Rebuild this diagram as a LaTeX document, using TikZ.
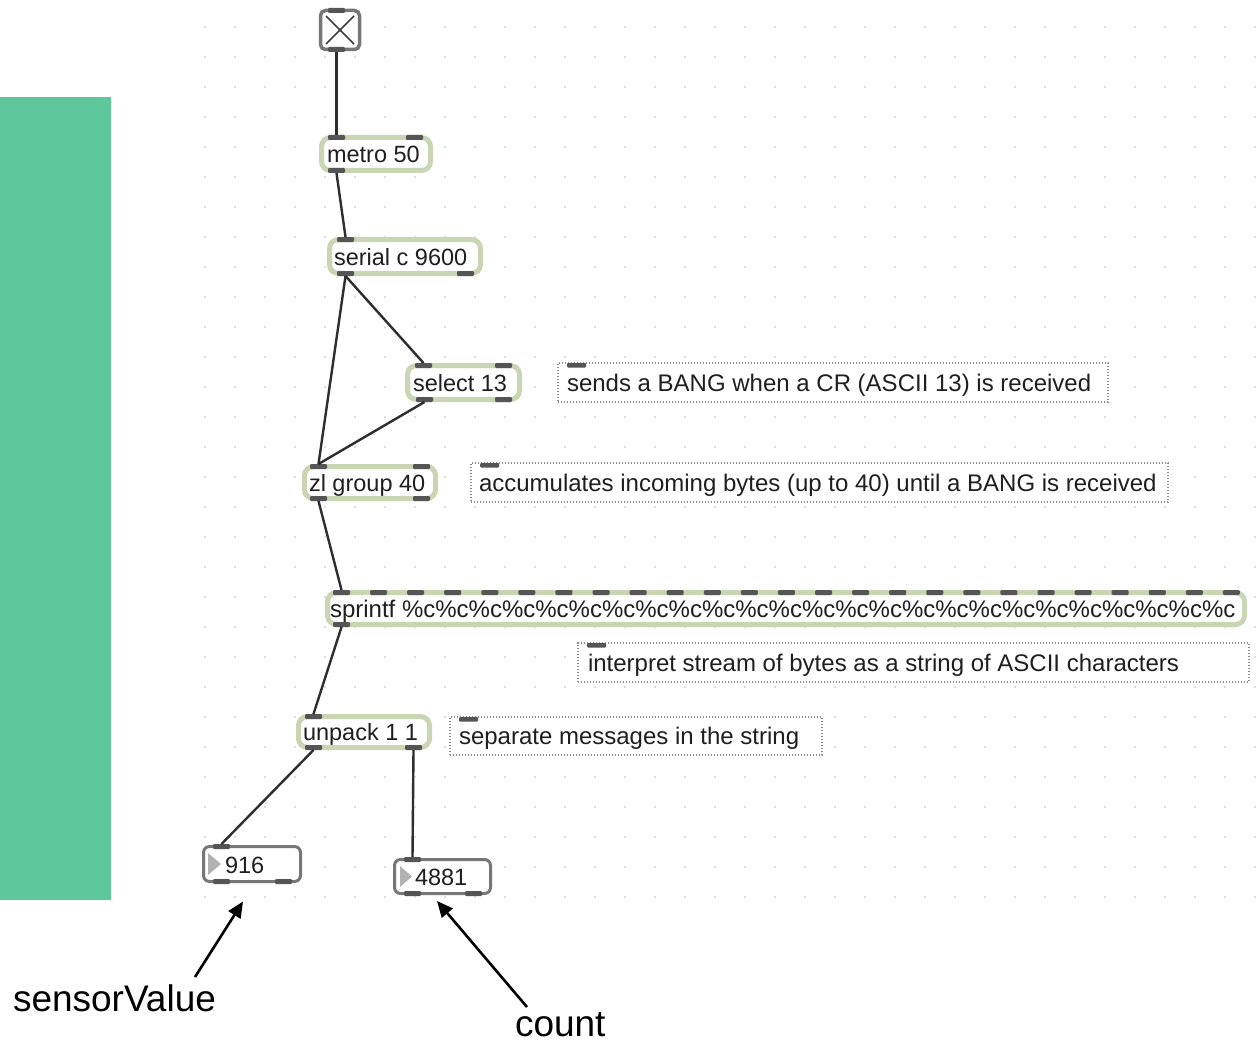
\documentclass[tikz,border=0pt]{standalone}
\usepackage{fontspec}
\setmainfont{Liberation Sans}
\usetikzlibrary{calc,arrows.meta}
\definecolor{greenc}{HTML}{5EC89C}
\definecolor{objc}{HTML}{CAD5B3}
\definecolor{portc}{HTML}{555555}
\definecolor{cordc}{HTML}{2E2E2E}
\definecolor{gridc}{HTML}{D4D4D4}
\definecolor{numc}{HTML}{777777}
\definecolor{cmtc}{HTML}{8C8C8C}
\newcommand{\mport}[3]{\fill[portc,rounded corners=1.2] ($(#1.#2 west)+(#3,-2.5)$) rectangle ++(17,5);}
\newcommand{\mcord}[4]{\draw[cord] ($(#1.south west)+(#2,2.5)$) -- ($(#3.north west)+(#4,-2.5)$);}
\newcommand{\cmark}[1]{\fill[portc,rounded corners=1] ($(#1.north west)+(9,0)$) rectangle ++(19,4.5);}
\tikzset{
  objbox/.style={draw=objc,line width=5,fill=white,rounded corners=9,inner sep=0,outer sep=0},
  numbox/.style={draw=numc,line width=3,fill=white,rounded corners=6,inner sep=0,outer sep=0},
  togbox/.style={draw=numc,line width=3.5,fill=white,rounded corners=5,inner sep=0,outer sep=0},
  cmtbox/.style={draw=cmtc,line width=1.3,dash pattern=on 1.3 off 1.7,fill=white,inner sep=0,outer sep=0},
  otext/.style={inner sep=0,outer sep=0,anchor=base west,text=black!88,font=\fontsize{23.5}{28}\selectfont},
  ctext/.style={otext,font=\fontsize{24}{28}\selectfont},
  bigtext/.style={inner sep=0,outer sep=0,anchor=base west,text=black,font=\fontsize{37}{44}\selectfont},
  cord/.style={draw=cordc,line width=2.4},
  annot/.style={draw=black,line width=2.6,-{Triangle[length=16,width=14]}},
}
\begin{document}
\begin{tikzpicture}[x=1pt,y=-1pt]
\useasboundingbox (0,0) rectangle (1260,1043);
\fill[white] (0,0) rectangle (1260,1043);
% grid
\foreach \i in {0,...,35}{\foreach \j in {0,...,29}{\fill[gridc] (205+30*\i,27+30*\j) circle (1.1);}}
% green panel
\fill[greenc] (0,97) rectangle (111,900);

% toggle
\node[togbox,minimum width=39,minimum height=39] (tog) at (340,30) {};
\draw[draw=black!75,line width=1.5] (326,16) -- (354,44) (326,44) -- (354,16);
\fill[black!75] (340,30) circle (1.5);
\mport{tog}{north}{7.5}\mport{tog}{south}{7.5}

% metro
\node[objbox,minimum width=109,minimum height=33] (metro) at (376,154) {};
\node[otext] (metro-t) at (327,162.5) {metro 50};
\mport{metro}{north}{6.5}\mport{metro}{north}{84.5}\mport{metro}{south}{6.5}

% serial
\node[objbox,minimum width=151,minimum height=34] (serial) at (405,256.5) {};
\node[otext] (serial-t) at (334,265) {serial c 9600};
\mport{serial}{north}{7.5}\mport{serial}{south}{7.5}\mport{serial}{south}{127.5}

% select
\node[objbox,minimum width=112,minimum height=34] (select) at (463.5,382.5) {};
\node[otext] (select-t) at (413,391) {select 13};
\mport{select}{north}{7.5}\mport{select}{north}{87.5}\mport{select}{south}{8.5}\mport{select}{south}{87.5}

% zl group
\node[objbox,minimum width=131,minimum height=32] (zl) at (370,482.5) {};
\node[otext] (zl-t) at (309,491) {zl group 40};
\mport{zl}{north}{5.5}\mport{zl}{north}{108.5}\mport{zl}{south}{5.5}\mport{zl}{south}{108.5}

% sprintf
\node[objbox,minimum width=917,minimum height=32] (spr) at (786,608.5) {};
\node[ctext] (spr-t) at (330,617) {sprintf \%c\%c\%c\%c\%c\%c\%c\%c\%c\%c\%c\%c\%c\%c\%c\%c\%c\%c\%c\%c\%c\%c\%c\%c\%c};
\foreach \k in {0,...,24}{\mport{spr}{north}{5.5+37.08*\k}}
\mport{spr}{south}{5.5}

% unpack
\node[objbox,minimum width=131,minimum height=31] (unp) at (364,732) {};
\node[otext] (unp-t) at (303,740.5) {unpack 1 1};
\mport{unp}{north}{6.5}\mport{unp}{south}{6.5}\mport{unp}{south}{106.5}

% number boxes
\node[numbox,minimum width=97,minimum height=35] (n1) at (252,864) {};
\fill[black!30] (208,853) -- (208,875) -- (221,864) -- cycle;
\node[otext] (n1-t) at (225,873) {916};
\mport{n1}{north}{9.5}\mport{n1}{south}{9.5}\mport{n1}{south}{71.5}

\node[numbox,minimum width=96,minimum height=34] (n2) at (442.5,876.5) {};
\fill[black!30] (400,866) -- (400,887) -- (412,876.5) -- cycle;
\node[otext] (n2-t) at (415,885) {4881};
\mport{n2}{north}{9.5}\mport{n2}{south}{9.5}\mport{n2}{south}{70.5}

% comments
\node[cmtbox,minimum width=550,minimum height=39] (c1) at (833,382.5) {};
\node[ctext] (c1-t) at (567,391) {sends a BANG when a CR (ASCII 13) is received};
\cmark{c1}
\node[cmtbox,minimum width=697,minimum height=39] (c2) at (819.5,482.5) {};
\node[ctext] (c2-t) at (479,491) {accumulates incoming bytes (up to 40) until a BANG is received};
\cmark{c2}
\node[cmtbox,minimum width=671,minimum height=39] (c3) at (913.5,662.5) {};
\node[ctext] (c3-t) at (588,671) {interpret stream of bytes as a string of ASCII characters};
\cmark{c3}
\node[cmtbox,minimum width=372,minimum height=38] (c4) at (636,736) {};
\node[ctext] (c4-t) at (459,744.5) {separate messages in the string};
\cmark{c4}

% patch cords
\mcord{tog}{16}{metro}{15}
\mcord{metro}{15}{serial}{16}
\mcord{serial}{16}{select}{16}
\mcord{serial}{16}{zl}{14}
\mcord{select}{17}{zl}{14}
\mcord{zl}{14}{spr}{14}
\mcord{spr}{14}{unp}{15}
\mcord{unp}{15}{n1}{18}
\mcord{unp}{115}{n2}{18}

% annotations
\node[bigtext] (lab1) at (13,1011) {sensorValue};
\node[bigtext] (lab2) at (515,1036) {count};
\coordinate (lab1-tail) at (195,977);
\coordinate (lab2-tail) at (527,1007);
\draw[annot] (lab1-tail) -- ($(n1.south west)+(39.5,20)$);
\draw[annot] (lab2-tail) -- ($(n2.south west)+(42.5,7.5)$);
\end{tikzpicture}
\end{document}
